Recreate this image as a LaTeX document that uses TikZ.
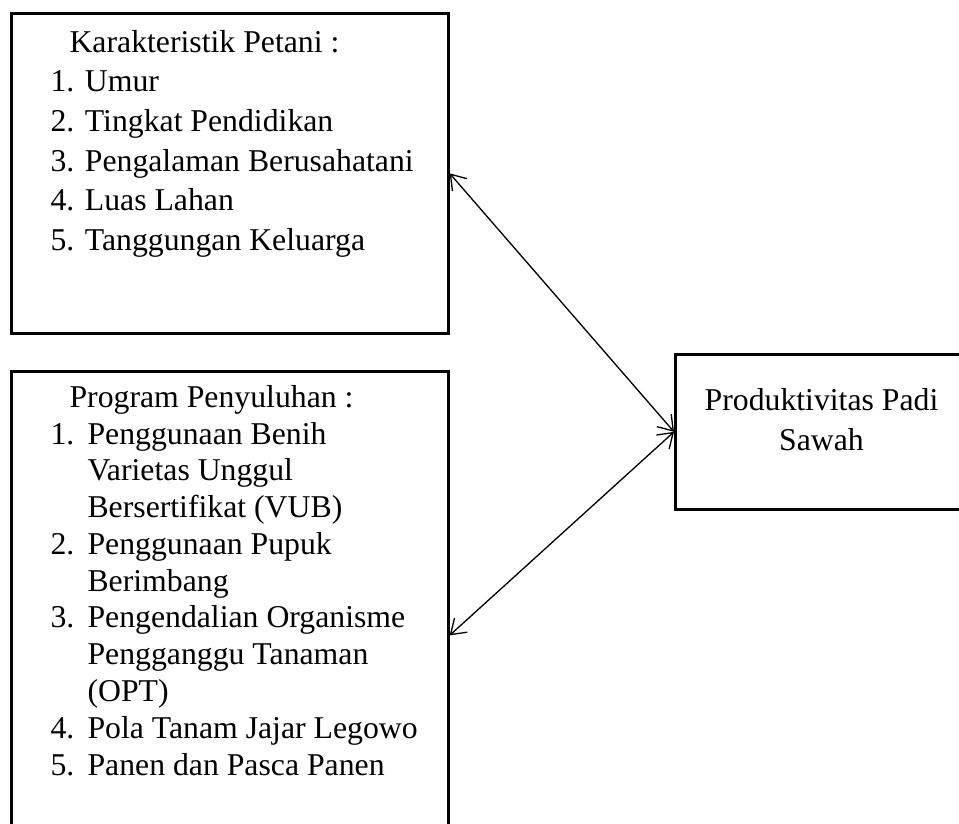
\documentclass[tikz,border=0pt]{standalone}
\usepackage{fontspec}
\setmainfont{Liberation Serif}
\usetikzlibrary{arrows.meta}

\newcommand{\nomor}[1]{\makebox[14pt][l]{#1}}
\newcommand{\lanjut}{\hspace*{14pt}}

\begin{document}
\begin{tikzpicture}[x=0.378pt, y=-0.378pt, b/.style={draw, line width=1pt, inner sep=0pt, anchor=north west}, t/.style={anchor=base west, align=left, inner sep=0pt}, a/.style={{Straight Barb[length=5.3pt,width=7.2pt]}-{Straight Barb[length=5.3pt,width=7.2pt]}, line width=0.5pt}]
		\path[use as bounding box, clip] (0,0) rectangle (959,823);

		% base of a text node is the baseline of its last line
		\node[b, minimum width=165.2pt, minimum height=121pt] (K) at (10,12) {};
		\node[t, font=\fontsize{12}{15}\selectfont] (K_text) at (50,250.5) {\hspace*{7.2pt}Karakteristik Petani :\\ 1. Umur\\ 2. Tingkat Pendidikan\\ 3. Pengalaman Berusahatani\\ 4. Luas Lahan\\ 5. Tanggungan Keluarga};

		\node[b, minimum width=165.2pt, minimum height=199.6pt] (P) at (10,370) {};
		\node[t, font=\fontsize{12}{13.9}\selectfont] (P_text) at (50,775) {\hspace*{7.2pt}Program Penyuluhan :\\ \nomor{1.}Penggunaan Benih\\ \lanjut Varietas Unggul\\ \lanjut Bersertifikat (VUB)\\ \nomor{2.}Penggunaan Pupuk\\ \lanjut Berimbang\\ \nomor{3.}Pengendalian Organisme\\ \lanjut Pengganggu Tanaman\\ \lanjut (OPT)\\ \nomor{4.}Pola Tanam Jajar Legowo\\ \nomor{5.}Panen dan Pasca Panen};

		\node[b, minimum width=121pt, minimum height=58.6pt] (Y) at (674,353) {};
		\node[t, anchor=base, align=center, font=\fontsize{12}{15.1}\selectfont] (Y_text) at (821.5,450) {Produktivitas Padi\\ Sawah};

		\draw[a] (K.east) -- (Y.west);
		\draw[a] (P.east) -- (Y.west);
	\end{tikzpicture}
\end{document}
